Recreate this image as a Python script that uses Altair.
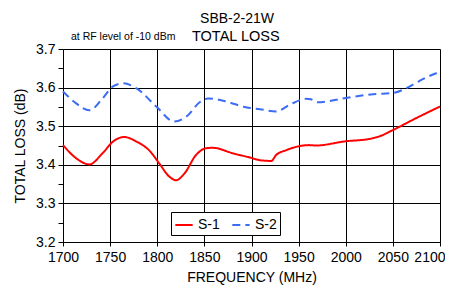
import altair as alt
import pandas as pd

s1_freq = [1700, 1714, 1728, 1742, 1753, 1765, 1778, 1792, 1802, 1813, 1820, 1829, 1841, 1852, 1859, 1880, 1898,
           1909, 1921, 1926, 1937, 1961, 1968, 2000, 2025, 2036, 2050, 2074, 2100]
s1_loss = [3.451, 3.417, 3.401, 3.430, 3.460, 3.472, 3.460, 3.436, 3.404, 3.369, 3.360, 3.378, 3.425, 3.443, 3.444, 3.430, 3.419,
           3.412, 3.410, 3.425, 3.438, 3.451, 3.450, 3.461, 3.467, 3.474, 3.490, 3.520, 3.551]

s2_freq = [1700, 1714, 1728, 1742, 1753, 1764, 1778, 1799, 1818, 1831, 1845, 1854, 1873, 1894,
           1909, 1926, 1940, 1958, 1963, 1970, 2000, 2029, 2050, 2064, 2078, 2096, 2100]
s2_loss = [3.590, 3.559, 3.541, 3.572, 3.603, 3.611, 3.598, 3.551, 3.512, 3.525, 3.562, 3.572, 3.564, 3.549,
           3.544, 3.538, 3.555, 3.571, 3.570, 3.562, 3.573, 3.583, 3.586, 3.598, 3.617, 3.637, 3.640]

series_names = ["S-1", "S-2"]
x_ticks = [1700, 1750, 1800, 1850, 1900, 1950, 2000, 2050, 2100]
y_ticks = [3.2, 3.25, 3.3, 3.35, 3.4, 3.45, 3.5, 3.55, 3.6, 3.65, 3.7]

df = pd.concat([
    pd.DataFrame({"freq": s1_freq, "loss": s1_loss, "series": series_names[0]}),
    pd.DataFrame({"freq": s2_freq, "loss": s2_loss, "series": series_names[1]}),
])

FONT = "Liberation Sans"

legend = alt.Legend(title=None, orient="none", legendX=108, legendY=163,
                    direction="horizontal", strokeColor="black", fillColor="white",
                    padding=3, symbolType="stroke", symbolSize=300,
                    symbolStrokeWidth=2, labelFontSize=14, labelFont=FONT,
                    labelColor="black", columnPadding=8, labelOffset=4)

lines = alt.Chart(df).mark_line(interpolate="monotone", strokeWidth=2).encode(
    x=alt.X("freq:Q", scale=alt.Scale(domain=[1700, 2100], nice=False),
            axis=alt.Axis(values=x_ticks, title="FREQUENCY (MHz)", format="d",
                          grid=True, gridColor="black", gridOpacity=1, gridWidth=1,
                          tickColor="black", tickSize=4, labelPadding=4,
                          labelAlign={"condition": {"test": "datum.value == 2100", "value": "right"}, "value": "center"},
                          labelOffset={"condition": {"test": "datum.value == 2100", "value": 5}, "value": 0},
                          domainColor="black", labelFontSize=14, titleFontSize=14,
                          labelFont=FONT, titleFont=FONT, titleFontWeight="normal",
                          labelColor="black", titleColor="black", titlePadding=6,
                          labelFlush=False, labelOverlap=False)),
    y=alt.Y("loss:Q", scale=alt.Scale(domain=[3.2, 3.7], nice=False, zero=False),
            axis=alt.Axis(values=y_ticks, title="TOTAL LOSS (dB)",
                          labelExpr="round(datum.value*100)%10==0 ? format(datum.value, '.1f') : ''",
                          grid=True, gridColor="black",
                          gridOpacity={"condition": {"test": "round(datum.value*100)%10==0", "value": 1}, "value": 0},
                          gridWidth=1, tickColor="black", tickSize=5, labelPadding=3,
                          domainColor="black", labelFontSize=14, titleFontSize=14,
                          labelFont=FONT, titleFont=FONT, titleFontWeight="normal",
                          labelColor="black", titleColor="black", titlePadding=8,
                          labelFlush=False, labelOverlap=False)),
    color=alt.Color("series:N", scale=alt.Scale(domain=series_names, range=["#ff0000", "#3a6cf5"]),
                    legend=legend),
    strokeDash=alt.StrokeDash("series:N", scale=alt.Scale(domain=series_names, range=[[1, 0], [8, 5]]),
                              legend=legend),
)

title_df = pd.DataFrame({"t": ["SBB-2-21W"]})
t1 = alt.Chart(title_df).mark_text(font=FONT, fontSize=14, align="center", baseline="alphabetic", color="black").encode(
    text="t:N", x=alt.value(174), y=alt.value(-26))
sub_df = pd.DataFrame({"t": ["at RF level of -10 dBm"]})
t2 = alt.Chart(sub_df).mark_text(font=FONT, fontSize=10.5, align="left", baseline="alphabetic", color="black").encode(
    text="t:N", x=alt.value(8), y=alt.value(-9))
tl_df = pd.DataFrame({"t": ["TOTAL LOSS"]})
t3 = alt.Chart(tl_df).mark_text(font=FONT, fontSize=14.5, align="left", baseline="alphabetic", color="black").encode(
    text="t:N", x=alt.value(129), y=alt.value(-8))

chart = alt.layer(lines, t1, t2, t3).properties(
    width=377, height=193,
    autosize=alt.AutoSizeParams(type="none"),
    padding={"left": 55, "top": 41, "right": 5, "bottom": 45},
).configure_view(stroke="black", strokeWidth=1).configure(background="white")

chart.save("out.html", embed_options={"renderer": "svg", "actions": False})
